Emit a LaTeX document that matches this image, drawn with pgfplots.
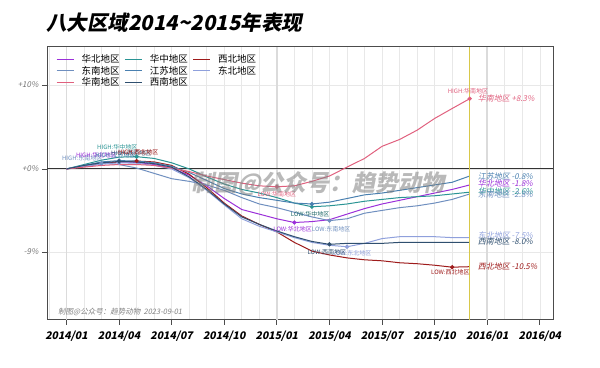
\documentclass[border=0pt]{standalone}
\usepackage{pgfplots}
\usepackage{pgfplotstable}
\pgfplotsset{compat=1.18}
\usepackage{fontspec}
\setmainfont{Noto Sans CJK SC}[AutoFakeSlant=0.2]
\newfontfamily\bifont{Noto Sans CJK SC}[FakeSlant=0.2]
\definecolor{cHB}{HTML}{9B30D9}
\definecolor{cHZ}{HTML}{2A9494}
\definecolor{cXB}{HTML}{9E1B1B}
\definecolor{cDN}{HTML}{6F8FBF}
\definecolor{cJS}{HTML}{4A80B0}
\definecolor{cDB}{HTML}{8FA0DC}
\definecolor{cHN}{HTML}{E0607E}
\definecolor{cXN}{HTML}{2F4F6F}
\definecolor{cYel}{HTML}{D8C84A}
\pgfplotstableread{
m hb hz xb dn js db hn xn
0 100 100 100 100 100 100 100 100
1 100.3 100.5 100.3 100.4 100.4 100.3 100.2 100.4
2 100.6 101.0 100.6 100.65 100.8 100.55 100.4 100.7
3 100.8 101.35 100.8 100.5 100.95 100.7 100.5 100.85
4 100.75 101.4 100.9 100.1 100.9 100.65 100.5 100.8
5 100.5 101.2 100.8 99.5 100.7 100.4 100.4 100.6
6 100.1 100.7 100.4 98.9 100.3 100.0 100.1 100.2
7 99.3 100.0 99.4 98.6 99.6 99.0 99.7 99.1
8 98.1 99.1 97.9 98.2 98.7 97.6 99.2 97.7
9 96.7 98.3 96.2 97.6 97.8 96.0 98.8 96.1
10 95.5 97.7 94.8 96.8 97.2 94.5 98.4 94.7
11 95.0 97.3 93.9 96.1 96.8 93.7 98.1 93.9
12 94.5 96.8 93.1 95.7 96.5 93.1 98.0 93.2
13 94.1 96.2 92.0 95.2 96.2 92.5 98.1 92.6
14 94.2 95.8 91.1 94.7 96.1 92.0 98.6 92.1
15 94.4 95.9 90.7 94.3 96.3 91.7 99.2 91.8
16 95.0 96.1 90.4 94.5 96.7 91.55 100.2 91.9
17 95.6 96.4 90.2 95.1 97.1 91.9 101.2 91.9
18 96.1 96.6 90.1 95.4 97.3 92.4 102.6 91.9
19 96.5 96.8 89.9 95.7 97.6 92.6 103.4 92.0
20 96.9 96.9 89.8 95.9 97.9 92.6 104.5 92.0
21 97.3 97.0 89.65 96.2 98.2 92.6 105.9 92.0
22 97.7 97.2 89.45 96.6 98.5 92.5 107.1 92.0
23 98.2 97.4 89.5 97.2 99.2 92.5 108.3 92.0
}\regiondata
\begin{document}
\begin{tikzpicture}[x=1pt,y=1pt]
\path[use as bounding box] (0,0) rectangle (600,367);
\node[anchor=west, inner sep=0pt, font=\bifont\bfseries\fontsize{20.5}{20.5}\selectfont] at (46,344) {八大区域2014\textasciitilde 2015年表现};
\begin{axis}[
  at={(47pt,47pt)}, anchor=south west,
  scale only axis, width=506pt, height=273pt,
  xmin=-1.11, xmax=27.75,
  ymode=log, ymin=84.25, ymax=114.85,
  xtick={0,3,...,27},
  xticklabels={2014/01,2014/04,2014/07,2014/10,2015/01,2015/04,2015/07,2015/10,2016/01,2016/04},
  minor xtick={-1,...,27},
  ytick={91,100,110},
  yticklabels={-9\%,+0\%,+10\%},
  xmajorgrids, xminorgrids, ymajorgrids,
  major grid style={black!9, line width=0.6pt},
  minor grid style={black!9, line width=0.6pt},
  tick align=outside, xtick pos=lower, ytick pos=left,
  major tick length=5pt, minor tick length=0pt,
  tick style={black!70, line width=0.8pt},
  axis line style={black!70, line width=0.9pt},
  x tick label style={font=\bifont\bfseries\fontsize{10.5}{10.5}\selectfont, yshift=-3pt},
  y tick label style={font=\itshape\fontsize{8}{8}\selectfont, text=black!55},
  extra x ticks={0,12,24}, extra x tick labels={},
  extra x tick style={grid=major, major grid style={black!14, line width=1.8pt}, major tick length=0pt},
  extra y ticks={100}, extra y tick labels={},
  extra y tick style={grid=major, major grid style={black!80, line width=0.9pt}, major tick length=0pt},
  legend columns=3,
  legend cell align=left,
  legend style={at={(0.012,0.985)}, anchor=north west, draw=none, fill=none,
    font=\fontsize{9.5}{10}\selectfont, row sep=-1.2pt,
    nodes={inner sep=1.5pt},
    /tikz/column 1/.style={column sep=6pt},
    /tikz/column 2/.style={column sep=3.5pt},
    /tikz/column 3/.style={column sep=6pt},
    /tikz/column 4/.style={column sep=3.5pt},
    /tikz/column 5/.style={column sep=6pt}},
  legend image code/.code={\draw[#1, line width=0.8pt] (0pt,0pt) -- (17pt,0pt);},
  every axis plot/.append style={line width=1pt, mark=none},
]
\addplot[cHB] table[x=m, y=hb] {\regiondata}; \addlegendentry{华北地区}
\addplot[cHZ] table[x=m, y=hz] {\regiondata}; \addlegendentry{华中地区}
\addplot[cXB] table[x=m, y=xb] {\regiondata}; \addlegendentry{西北地区}
\addplot[cDN] table[x=m, y=dn] {\regiondata}; \addlegendentry{东南地区}
\addplot[cJS] table[x=m, y=js] {\regiondata}; \addlegendentry{江苏地区}
\addplot[cDB] table[x=m, y=db] {\regiondata}; \addlegendentry{东北地区}
\addplot[cHN] table[x=m, y=hn] {\regiondata}; \addlegendentry{华南地区}
\addplot[cXN] table[x=m, y=xn] {\regiondata}; \addlegendentry{西南地区}
\addplot[cYel, line width=0.8pt, forget plot] coordinates {(23,84.25) (23,114.85)};
% high / low markers
\addplot[cHB, only marks, mark=*, mark size=1.6pt, forget plot] coordinates {(3,100.8) (13,94.1)};
\addplot[cHZ, only marks, mark=*, mark size=1.6pt, forget plot] coordinates {(4,101.4) (14,95.8)};
\addplot[cXB, only marks, mark=*, mark size=1.6pt, forget plot] coordinates {(4,100.9) (22,89.45)};
\addplot[cDN, only marks, mark=*, mark size=1.6pt, forget plot] coordinates {(2,100.65) (15,94.3)};
\addplot[cJS, only marks, mark=*, mark size=1.6pt, forget plot] coordinates {(3,100.95) (14,96.1)};
\addplot[cDB, only marks, mark=*, mark size=1.6pt, forget plot] coordinates {(3,100.7) (16,91.55)};
\addplot[cHN, only marks, mark=*, mark size=1.6pt, forget plot] coordinates {(23,108.3) (12,98.0)};
\addplot[cXN, only marks, mark=*, mark size=1.6pt, forget plot] coordinates {(3,100.85) (15,91.8)};
% labels
\begin{scope}[every node/.style={font=\fontsize{6}{6}\selectfont, inner sep=0pt}]
\node[text=cDN] at (axis cs:0.9,101.26) {HIGH:东南地区};
\node[text=cHB] at (axis cs:1.7,101.6) {HIGH:华北地区};
\node[text=cJS] at (axis cs:2.8,101.6) {HIGH:江苏地区};
\node[text=cHZ] at (axis cs:2.9,102.5) {HIGH:华中地区};
\node[text=cXN] at (axis cs:3.7,101.83) {HIGH:西南地区};
\node[text=cXB] at (axis cs:4.1,101.87) {HIGH:西北地区};
\node[text=cHN] at (axis cs:22.9,109.2) {HIGH:华南地区};
\node[text=cHN] at (axis cs:12,97.2) {LOW:华南地区};
\node[text=cHZ!70!black] at (axis cs:13.9,95.0) {LOW:华中地区};
\node[text=cHB] at (axis cs:12.9,93.4) {LOW:华北地区};
\node[text=cDN] at (axis cs:15.1,93.4) {LOW:东南地区};
\node[text=cDB] at (axis cs:16.3,90.9) {LOW:东北地区};
\node[text=cXN] at (axis cs:14.85,91.0) {LOW:西南地区};
\node[text=cXB] at (axis cs:21.9,88.9) {LOW:西北地区};
\end{scope}
\begin{scope}[every node/.style={anchor=west, font=\itshape\fontsize{8}{8}\selectfont, inner sep=0pt}]
\node[text=cHN] at (axis cs:23.45,108.3) {华南地区 +8.3\%};
\node[text=cJS] at (axis cs:23.45,99.2) {江苏地区 -0.8\%};
\node[text=cHB] at (axis cs:23.45,98.4) {华北地区 -1.8\%};
\node[text=cHZ] at (axis cs:23.45,97.5) {华中地区 -2.6\%};
\node[text=cDN] at (axis cs:23.45,97.1) {东南地区 -2.8\%};
\node[text=cDB] at (axis cs:23.45,92.7) {东北地区 -7.5\%};
\node[text=cXN] at (axis cs:23.45,92.1) {西南地区 -8.0\%};
\node[text=cXB] at (axis cs:23.45,89.5) {西北地区 -10.5\%};
\end{scope}
\end{axis}
\node[text=black!50, opacity=0.55, font=\bifont\bfseries\fontsize{23}{23}\selectfont] at (318,183) {制图@公众号：趋势动物};
\node[anchor=west, inner sep=0pt, text=black!50, font=\itshape\fontsize{7.5}{7.5}\selectfont] at (58,55) {制图@公众号：趋势动物\ \ 2023-09-01};
\end{tikzpicture}
\end{document}
